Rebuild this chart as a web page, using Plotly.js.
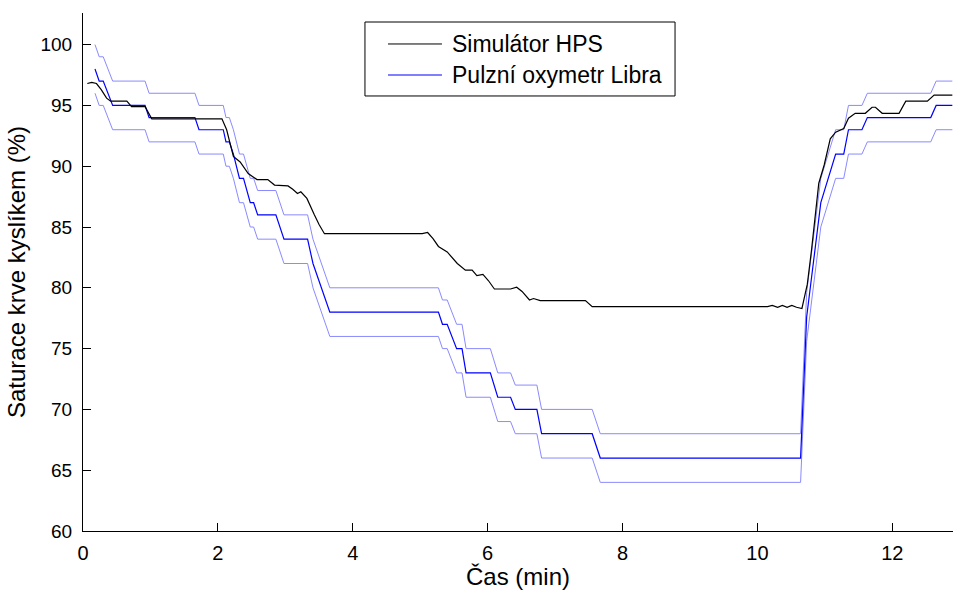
<!DOCTYPE html>
<html>
<head>
<meta charset="utf-8">
<script src="https://cdn.plot.ly/plotly-3.0.1.min.js"></script>
<style>html,body{margin:0;padding:0;background:#fff;}#chart{width:957px;height:590px;}</style>
</head>
<body>
<div id="chart"></div>
<script>
// Simulátor HPS (black)
var simTime = [0.064, 0.13, 0.20, 0.27, 0.35, 0.41, 0.65, 0.72, 0.92, 1.02, 2.06, 2.13, 2.18, 2.23, 2.33, 2.45, 2.58, 2.74, 2.84, 3.04, 3.11, 3.18, 3.23, 3.32, 3.43, 3.50, 3.58, 5.03, 5.11, 5.19, 5.27, 5.40, 5.55, 5.67, 5.77, 5.84, 5.93, 6.01, 6.10, 6.34, 6.43, 6.51, 6.62, 6.68, 6.78, 7.45, 7.55, 10.15, 10.22, 10.30, 10.37, 10.44, 10.51, 10.58, 10.66, 10.74, 10.80, 10.86, 10.91, 10.99, 11.08, 11.16, 11.28, 11.35, 11.45, 11.60, 11.70, 11.75, 11.85, 12.10, 12.20, 12.52, 12.62, 12.89];
var simValue = [96.8, 96.9, 96.8, 96.3, 95.6, 95.35, 95.35, 94.9, 94.9, 93.9, 93.9, 93.0, 91.9, 90.8, 90.35, 89.4, 88.9, 88.9, 88.45, 88.38, 88.1, 87.75, 87.9, 87.35, 86.0, 85.2, 84.45, 84.45, 84.55, 84.05, 83.4, 82.95, 82.0, 81.45, 81.45, 81.0, 81.1, 80.6, 79.9, 79.9, 80.05, 79.7, 79.0, 79.12, 78.95, 78.95, 78.45, 78.45, 78.55, 78.4, 78.55, 78.4, 78.55, 78.4, 78.3, 80.3, 83.0, 86.3, 88.6, 90.1, 92.25, 92.8, 93.1, 93.95, 94.35, 94.35, 94.85, 94.85, 94.35, 94.35, 95.35, 95.35, 95.85, 95.85];

// Pulzní oxymetr Libra (blue) with upper/lower accuracy bounds
var oxTime = [0.178, 0.24, 0.30, 0.44, 0.92, 0.98, 1.66, 1.72, 2.08, 2.12, 2.17, 2.23, 2.32, 2.38, 2.48, 2.53, 2.59, 2.86, 2.98, 3.33, 3.41, 3.66, 5.27, 5.33, 5.40, 5.54, 5.62, 5.68, 6.04, 6.15, 6.34, 6.41, 6.73, 6.80, 7.55, 7.67, 10.64, 10.73, 10.94, 11.05, 11.16, 11.28, 11.35, 11.55, 11.63, 12.57, 12.65, 12.89];
var oxValue = [98, 97, 97, 95, 95, 94, 94, 93, 93, 92, 92, 91, 89, 89, 87, 87, 86, 86, 84, 84, 82, 78, 78, 77, 77, 75, 75, 73, 73, 71, 71, 70, 70, 68, 68, 66, 66, 77.6, 87, 89, 91, 91, 93, 93, 94, 94, 95, 95];
var oxUpper = [100, 99, 99, 97, 97, 96, 96, 95, 95, 94, 94, 93, 91, 91, 89, 89, 88, 88, 86, 86, 84, 80, 80, 79, 79, 77, 77, 75, 75, 73, 73, 72, 72, 70, 70, 68, 68, 79.6, 89, 91, 93, 93, 95, 95, 96, 96, 97, 97];
var oxLower = [96, 95, 95, 93, 93, 92, 92, 91, 91, 90, 90, 89, 87, 87, 85, 85, 84, 84, 82, 82, 80, 76, 76, 75, 75, 73, 73, 71, 71, 69, 69, 68, 68, 66, 66, 64, 64, 75.6, 85, 87, 89, 89, 91, 91, 92, 92, 93, 93];

var xTicks = [0, 2, 4, 6, 8, 10, 12];
var yTicks = [60, 65, 70, 75, 80, 85, 90, 95, 100];
var seriesNames = ['Simulátor HPS', 'Pulzní oxymetr Libra'];

var FONT = 'Liberation Sans, Arial, sans-serif';

var traces = [
  {x: oxTime, y: oxUpper, type: 'scatter', mode: 'lines', line: {color: '#8a8aff', width: 1}, showlegend: false, hoverinfo: 'skip'},
  {x: oxTime, y: oxLower, type: 'scatter', mode: 'lines', line: {color: '#8a8aff', width: 1}, showlegend: false, hoverinfo: 'skip'},
  {x: oxTime, y: oxValue, type: 'scatter', mode: 'lines', name: seriesNames[1], line: {color: '#0000ff', width: 1.2}, showlegend: false},
  {x: simTime, y: simValue, type: 'scatter', mode: 'lines', name: seriesNames[0], line: {color: '#000000', width: 1.2}, showlegend: false}
];

// legend drawn as decoration (paper coords)
var lg = {x0: 0.3241, x1: 0.6805, y0: 0.8398, y1: 0.9826, lx0: 0.3506, lx1: 0.4126, ty: [0.9402, 0.8803], tx: 0.4218};
var layout = {
  width: 957, height: 590,
  margin: {l: 83, r: 4, t: 13, b: 59},
  paper_bgcolor: '#ffffff', plot_bgcolor: '#ffffff',
  font: {family: FONT, color: '#000'},
  showlegend: false,
  xaxis: {
    range: [0, 12.9], tickvals: xTicks, ticktext: xTicks.map(String),
    ticks: 'inside', ticklen: 8, tickwidth: 1, tickcolor: '#000',
    showline: true, linecolor: '#000', linewidth: 1, mirror: false,
    showgrid: false, zeroline: false,
    tickfont: {family: FONT, size: 20, color: '#000'},
    ticklabelstandoff: 4,
    title: {text: 'Čas (min)', font: {family: FONT, size: 24, color: '#000'}, standoff: 3}
  },
  yaxis: {
    range: [60, 102.6], tickvals: yTicks, ticktext: yTicks.map(String),
    ticks: 'inside', ticklen: 8, tickwidth: 1, tickcolor: '#000',
    showline: true, linecolor: '#000', linewidth: 1, mirror: false,
    showgrid: false, zeroline: false,
    tickfont: {family: FONT, size: 19, color: '#000'},
    ticklabelstandoff: 6,
    title: {text: 'Saturace krve kyslíkem (%)', font: {family: FONT, size: 24, color: '#000'}, standoff: 8}
  },
  shapes: [
    {type: 'rect', xref: 'paper', yref: 'paper', x0: lg.x0, x1: lg.x1, y0: lg.y0, y1: lg.y1, line: {color: '#000', width: 1}, fillcolor: '#fff', layer: 'above'},
    {type: 'line', xref: 'paper', yref: 'paper', x0: lg.lx0, x1: lg.lx1, y0: lg.ty[0], y1: lg.ty[0], line: {color: '#000', width: 1}, layer: 'above'},
    {type: 'line', xref: 'paper', yref: 'paper', x0: lg.lx0, x1: lg.lx1, y0: lg.ty[1], y1: lg.ty[1], line: {color: '#0000ff', width: 1}, layer: 'above'}
  ],
  annotations: [
    {xref: 'paper', yref: 'paper', x: lg.tx, y: lg.ty[0], xanchor: 'left', yanchor: 'middle', text: seriesNames[0], showarrow: false, font: {family: FONT, size: 23, color: '#000'}},
    {xref: 'paper', yref: 'paper', x: lg.tx, y: lg.ty[1], xanchor: 'left', yanchor: 'middle', text: seriesNames[1], showarrow: false, font: {family: FONT, size: 23, color: '#000'}}
  ]
};

Plotly.newPlot('chart', traces, layout, {displayModeBar: false, staticPlot: true});
</script>
</body>
</html>
